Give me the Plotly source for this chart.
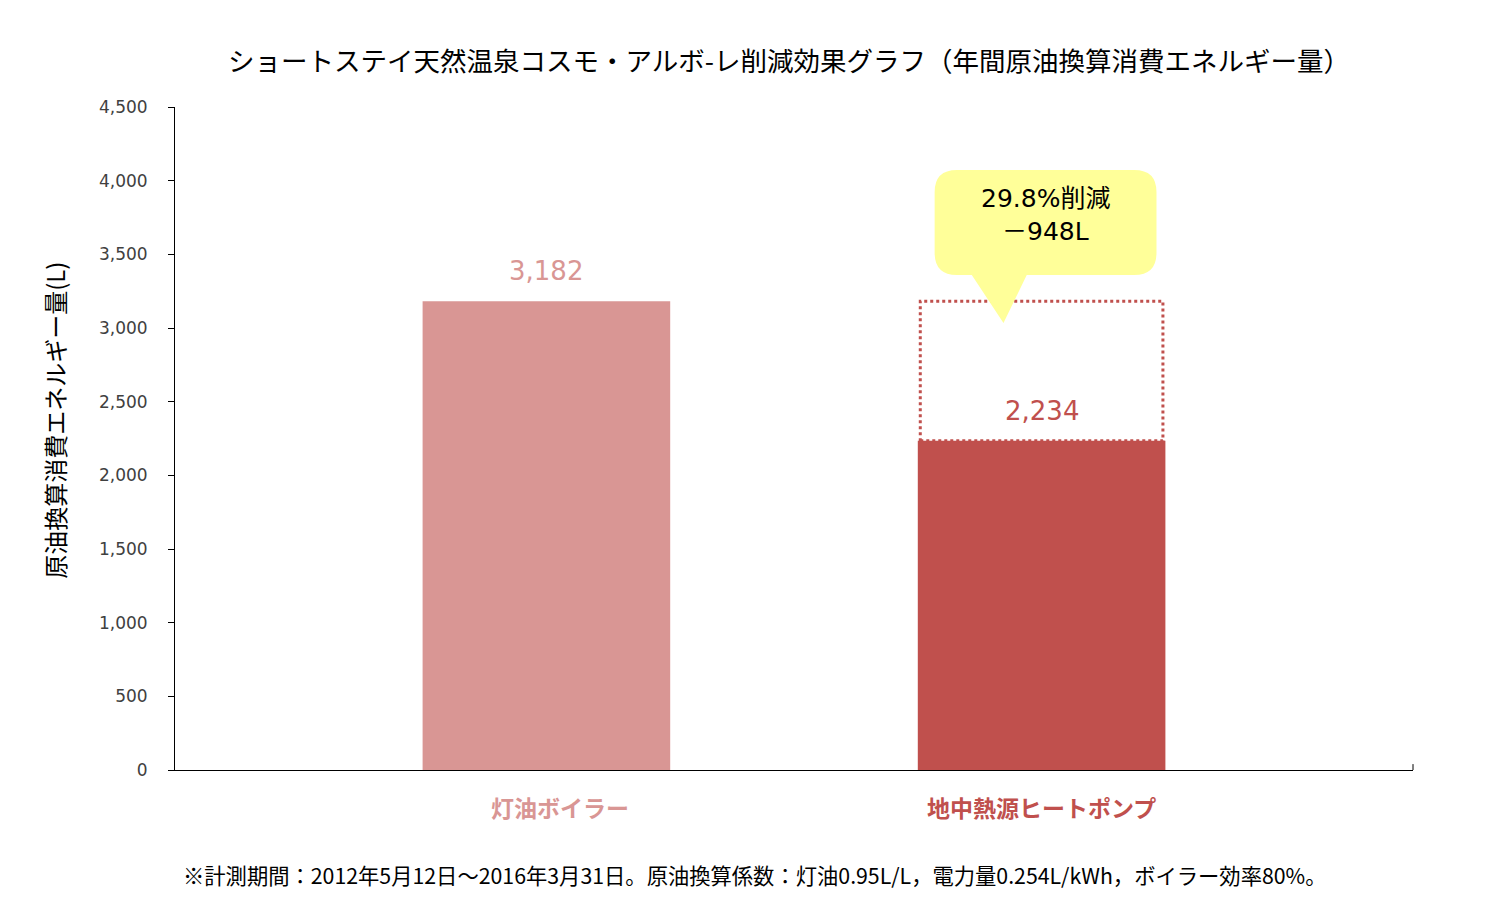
import plotly.graph_objects as go

# data
categories = ["灯油ボイラー", "地中熱源ヒートポンプ"]
energy_l = [3182, 2234]
bar_colors = ["#D99694", "#C0504D"]
y_ticks = [0, 500, 1000, 1500, 2000, 2500, 3000, 3500, 4000, 4500]

title = "ショートステイ天然温泉コスモ・アルボ-レ削減効果グラフ（年間原油換算消費エネルギー量）"
y_title = "原油換算消費エネルギー量(L)"
footnote = "※計測期間：2012年5月12日～2016年3月31日。原油換算係数：灯油0.95L/L，電力量0.254L/kWh，ボイラー効率80%。"

FONT = "Noto Sans CJK JP"
NUM_FONT = "DejaVu Sans, Noto Sans CJK JP"

reduction = energy_l[0] - energy_l[1]
reduction_pct = reduction / energy_l[0] * 100

x_pos = list(range(len(categories)))
bar_width = 0.5

fig = go.Figure()

fig.add_trace(
    go.Bar(
        x=x_pos,
        y=energy_l,
        width=bar_width,
        marker=dict(color=bar_colors, line=dict(width=0)),
        hoverinfo="skip",
        showlegend=False,
    )
)

# value labels above the bars
for xp, v, c in zip(x_pos, energy_l, bar_colors):
    fig.add_annotation(
        x=xp, y=v, text=f"{v:,}", showarrow=False,
        yanchor="middle", yshift=30,
        font=dict(family=NUM_FONT, size=26, color=c),
    )

# category labels under the axis (first one sits a bit right of its bar, as in the source)
for xp, cat, c, dx in zip(x_pos, categories, bar_colors, [14, 0]):
    fig.add_annotation(
        x=xp, y=0, text=f"<b>{cat}</b>", showarrow=False,
        yanchor="middle", yshift=-37, xshift=dx,
        font=dict(family=FONT, size=23, color=c),
    )

# dotted outline showing the reduced amount
fig.add_shape(
    type="rect", xref="x", yref="y",
    x0=x_pos[1] - bar_width / 2 + 0.005, x1=x_pos[1] + bar_width / 2 - 0.005,
    y0=energy_l[1], y1=energy_l[0],
    line=dict(color="#C0504D", width=3, dash="dot"),
    fillcolor="rgba(0,0,0,0)",
)

# speech bubble callout
bx0, bx1 = x_pos[1] - 0.216, x_pos[1] + 0.232
by0, by1 = 3360, 4072
rx, ry = 0.045, 150
px0, px1 = x_pos[1] - 0.141, x_pos[1] - 0.030
tipx, tipy = x_pos[1] - 0.077, 3034
path = (
    f"M {bx0+rx},{by0} L {px0},{by0} L {tipx},{tipy} L {px1},{by0} "
    f"L {bx1-rx},{by0} Q {bx1},{by0} {bx1},{by0+ry} "
    f"L {bx1},{by1-ry} Q {bx1},{by1} {bx1-rx},{by1} "
    f"L {bx0+rx},{by1} Q {bx0},{by1} {bx0},{by1-ry} "
    f"L {bx0},{by0+ry} Q {bx0},{by0} {bx0+rx},{by0} Z"
)
fig.add_shape(
    type="path", xref="x", yref="y", path=path,
    fillcolor="#FFFF99", line=dict(width=0), layer="above",
)
callout_lines = [f"{reduction_pct:.1f}%削減", f"－{reduction}L"]
for line, ly in zip(callout_lines, [3876, 3652]):
    fig.add_annotation(
        x=(bx0 + bx1) / 2, y=ly, text=line, showarrow=False,
        yanchor="middle",
        font=dict(family=NUM_FONT, size=25, color="#000000"),
    )

# small tick at the right end of the category axis
fig.add_shape(
    type="line", xref="x domain", yref="y",
    x0=1, x1=1, y0=0, y1=40,
    line=dict(color="#000000", width=1),
)

# y axis title
fig.add_annotation(
    xref="paper", yref="paper", x=-0.097, y=0.528,
    text=y_title, textangle=-90, showarrow=False,
    xanchor="center", yanchor="middle",
    font=dict(family=FONT, size=24, color="#000000"),
)

# footnote
fig.add_annotation(
    xref="paper", yref="paper", x=0.468, y=-0.158,
    text=footnote, showarrow=False,
    xanchor="center", yanchor="middle",
    font=dict(family=FONT, size=21.3, color="#000000"),
)

fig.update_layout(
    width=1511,
    height=922,
    margin=dict(l=167, r=106, t=99, b=160),
    paper_bgcolor="white",
    plot_bgcolor="white",
    font=dict(family=FONT),
    title=dict(
        text=title,
        x=781 / 1511, xref="container", xanchor="center",
        y=1 - 54 / 922, yref="container", yanchor="middle",
        font=dict(family=FONT, size=26.5, color="#000000"),
    ),
    xaxis=dict(
        range=[-0.75, 1.75],
        tickvals=x_pos,
        showticklabels=False,
        ticks="",
        showline=True, linecolor="#000000", linewidth=1,
        showgrid=False, zeroline=False,
        fixedrange=True,
    ),
    yaxis=dict(
        range=[0, 4500],
        tickvals=y_ticks,
        tickformat=",",
        ticks="outside", ticklen=6, tickcolor="#000000",
        ticklabelstandoff=17,
        tickfont=dict(family="DejaVu Sans", size=17, color="#404040"),
        showline=True, linecolor="#000000", linewidth=1,
        showgrid=False, zeroline=False,
        fixedrange=True,
    ),
    bargap=0.5,
)

fig.write_html("out.html")
